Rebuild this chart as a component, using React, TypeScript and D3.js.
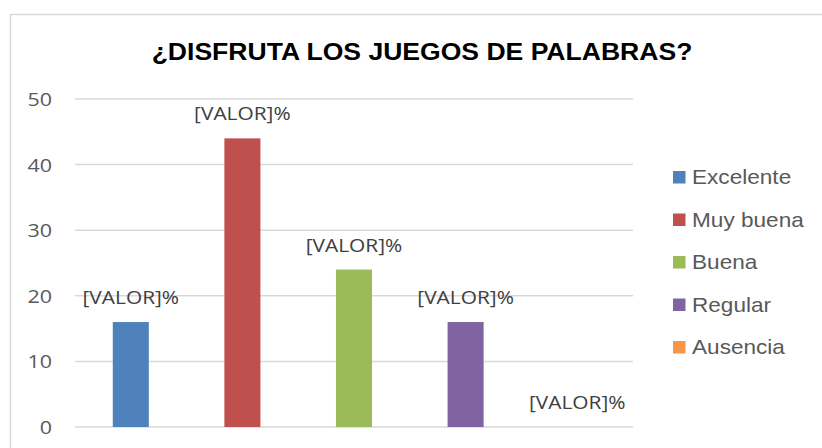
import React from 'react';
import * as d3 from 'd3';

const categories = ['Excelente', 'Muy buena', 'Buena', 'Regular', 'Ausencia'];
const values = [16, 44, 24, 16, 0];
const colors = ['#4F81BD', '#C0504D', '#9BBB59', '#8064A2', '#F79646'];
const yTicks = [0, 10, 20, 30, 40, 50];
const title = '¿DISFRUTA LOS JUEGOS DE PALABRAS?';
const dataLabel = '[VALOR]%';

const W = 822;
const H = 448;
// the source picture is a little stretched sideways, so text gets squeezed back the same way
const SX = 1.13;

export default function App() {
  const plot = { left: 75, right: 633, top: 99, bottom: 427 };

  const x = d3.scaleBand<string>()
    .domain(categories)
    .range([plot.left, plot.right])
    .paddingInner(0.677)
    .paddingOuter(0.3385);

  const y = d3.scaleLinear().domain([0, 50]).range([plot.bottom, plot.top]);

  const txt = (tx: number, ty: number) => `translate(${tx},${ty}) scale(${SX},1)`;

  return (
    <svg width={W} height={H} style={{ position: 'absolute', left: 0, top: 0, background: '#fff' }}>
      {/* chart area border */}
      <rect x={10.5} y={14.5} width={840} height={460} fill="#fff" stroke="#d9d9d9" strokeWidth={1.5} />

      <text
        transform={txt(422, 60)}
        textAnchor="middle"
        fontFamily="Liberation Sans, Arial, sans-serif"
        fontWeight="bold"
        fontSize={23.5}
        fill="#000"
      >
        {title}
      </text>

      {/* gridlines + y labels */}
      {yTicks.map(t => (
        <g key={t}>
          <line x1={plot.left} x2={plot.right} y1={y(t)} y2={y(t)} stroke="#d9d9d9" strokeWidth={1.5} />
          <text
            transform={txt(52, y(t) + 7)}
            textAnchor="end"
            fontFamily="Open Sans, sans-serif"
            fontSize={19}
            fill="#595959"
          >
            {t}
          </text>
        </g>
      ))}

      {/* bars */}
      {categories.map((c, i) => (
        <rect
          key={c}
          x={x(c)}
          y={y(values[i])}
          width={x.bandwidth()}
          height={y(0) - y(values[i])}
          fill={colors[i]}
        />
      ))}

      {/* data labels */}
      {categories.map((c, i) => (
        <text
          key={c}
          transform={txt((x(c) ?? 0) + x.bandwidth() / 2, y(values[i]) - 18)}
          textAnchor="middle"
          fontFamily="Open Sans, sans-serif"
          fontSize={18.5}
          fill="#404040"
        >
          {dataLabel}
        </text>
      ))}

      {/* legend */}
      {categories.map((c, i) => (
        <g key={c} transform={`translate(673,${184 + i * 42.5})`}>
          <rect x={0} y={-13} width={12.5} height={12.5} fill={colors[i]} />
          <text
            transform={txt(19, 0)}
            fontFamily="Liberation Sans, Arial, sans-serif"
            fontSize={20}
            fill="#595959"
          >
            {c}
          </text>
        </g>
      ))}
    </svg>
  );
}
